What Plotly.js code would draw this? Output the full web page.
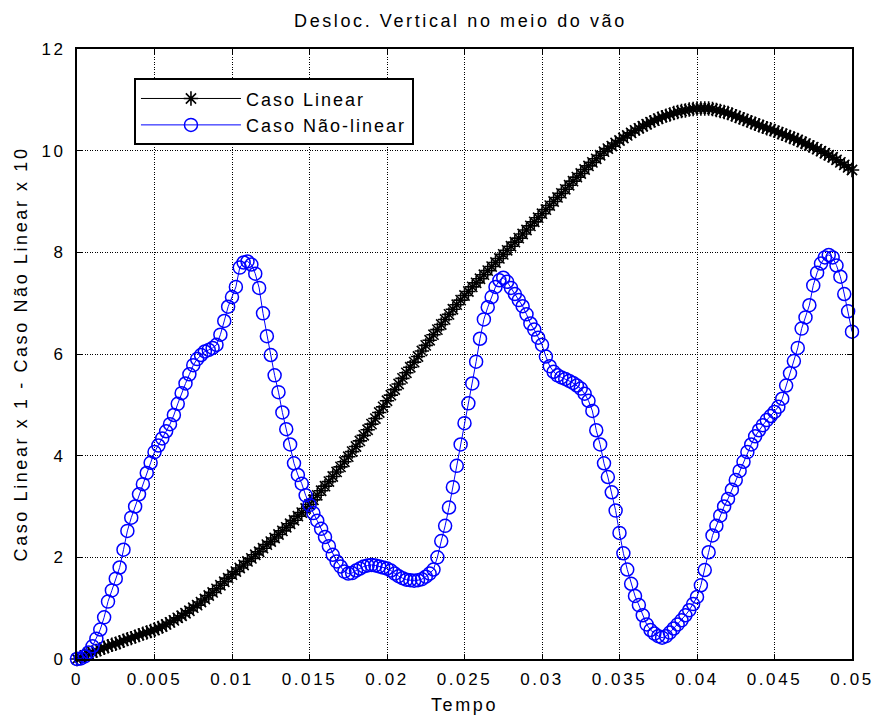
<!DOCTYPE html>
<html>
<head>
<meta charset="utf-8">
<script src="https://cdn.plot.ly/plotly-3.0.1.min.js"></script>
<style>
  html, body { margin: 0; padding: 0; background: #fff; }
  #chart { width: 877px; height: 722px; }
  .gtitle { letter-spacing: 2.6px; }
  .xtitle, .ytitle { letter-spacing: 2.6px; }
  .xtick text, .ytick text { letter-spacing: 2.6px; }
  .legendtext { letter-spacing: 2px; }
</style>
</head>
<body>
<div id="chart"></div>
<script>
// Time grid: first sample and step (s)
const tStart = 0;
const tStep = 0.00025;

// Caso Linear (x 1), one value per time step
const casoLinear = [
  0.00, 0.03, 0.07, 0.10, 0.13, 0.16, 0.19, 0.22, 0.25, 0.28,
  0.30, 0.33, 0.36, 0.39, 0.41, 0.44, 0.47, 0.50, 0.52, 0.55,
  0.57, 0.61, 0.64, 0.68, 0.72, 0.76, 0.81, 0.85, 0.90, 0.95,
  1.01, 1.06, 1.12, 1.18, 1.25, 1.31, 1.38, 1.45, 1.52, 1.59,
  1.66, 1.72, 1.79, 1.85, 1.92, 1.98, 2.05, 2.11, 2.18, 2.25,
  2.31, 2.38, 2.45, 2.52, 2.59, 2.66, 2.73, 2.81, 2.88, 2.96,
  3.04, 3.13, 3.22, 3.31, 3.40, 3.49, 3.59, 3.68, 3.78, 3.88,
  3.98, 4.08, 4.18, 4.29, 4.40, 4.51, 4.62, 4.73, 4.85, 4.96,
  5.08, 5.19, 5.30, 5.41, 5.52, 5.63, 5.74, 5.84, 5.95, 6.06,
  6.17, 6.27, 6.38, 6.48, 6.58, 6.68, 6.78, 6.88, 6.97, 7.06,
  7.15, 7.23, 7.32, 7.40, 7.48, 7.56, 7.64, 7.72, 7.80, 7.88,
  7.96, 8.04, 8.12, 8.20, 8.28, 8.36, 8.44, 8.52, 8.60, 8.68,
  8.76, 8.84, 8.92, 9.00, 9.08, 9.16, 9.24, 9.32, 9.40, 9.48,
  9.55, 9.63, 9.70, 9.77, 9.84, 9.91, 9.98, 10.04, 10.09, 10.15,
  10.20, 10.25, 10.30, 10.35, 10.40, 10.44, 10.48, 10.52, 10.56, 10.59,
  10.63, 10.66, 10.69, 10.71, 10.74, 10.76, 10.78, 10.79, 10.81, 10.82,
  10.83, 10.83, 10.83, 10.83, 10.82, 10.80, 10.78, 10.76, 10.74, 10.71,
  10.68, 10.65, 10.62, 10.59, 10.56, 10.53, 10.50, 10.47, 10.44, 10.42,
  10.39, 10.36, 10.33, 10.30, 10.27, 10.24, 10.21, 10.17, 10.14, 10.10,
  10.07, 10.03, 9.99, 9.95, 9.91, 9.87, 9.82, 9.77, 9.72, 9.67,
  9.62
];

// Caso Nao-linear (x 10), one value per time step
const casoNaoLinear = [
  0.00, 0.01, 0.05, 0.13, 0.25, 0.40, 0.58, 0.82, 1.13, 1.35,
  1.58, 1.80, 2.15, 2.52, 2.78, 3.00, 3.24, 3.44, 3.66, 3.86,
  4.07, 4.20, 4.34, 4.48, 4.62, 4.80, 5.02, 5.23, 5.42, 5.60,
  5.78, 5.90, 5.98, 6.05, 6.08, 6.12, 6.18, 6.38, 6.65, 6.93,
  7.12, 7.32, 7.70, 7.80, 7.82, 7.76, 7.58, 7.30, 6.80, 6.35,
  5.98, 5.58, 5.25, 4.85, 4.52, 4.22, 3.85, 3.62, 3.45, 3.22,
  3.03, 2.87, 2.72, 2.56, 2.40, 2.22, 2.05, 1.92, 1.82, 1.72,
  1.68, 1.69, 1.74, 1.78, 1.82, 1.84, 1.85, 1.84, 1.82, 1.80,
  1.78, 1.74, 1.68, 1.63, 1.59, 1.56, 1.55, 1.54, 1.55, 1.57,
  1.62, 1.68, 1.76, 2.00, 2.32, 2.62, 2.98, 3.38, 3.80, 4.22,
  4.64, 5.03, 5.42, 5.85, 6.30, 6.68, 6.92, 7.12, 7.32, 7.45,
  7.50, 7.42, 7.30, 7.18, 7.06, 6.94, 6.78, 6.60, 6.48, 6.32,
  6.18, 5.95, 5.76, 5.65, 5.58, 5.54, 5.51, 5.47, 5.43, 5.38,
  5.32, 5.22, 5.08, 4.88, 4.50, 4.22, 3.85, 3.58, 3.28, 2.92,
  2.48, 2.08, 1.76, 1.48, 1.24, 1.06, 0.86, 0.68, 0.57, 0.50,
  0.45, 0.42, 0.45, 0.52, 0.60, 0.68, 0.76, 0.86, 0.96, 1.08,
  1.22, 1.45, 1.75, 2.10, 2.43, 2.62, 2.82, 3.00, 3.15, 3.33,
  3.52, 3.70, 3.88, 4.07, 4.22, 4.38, 4.50, 4.60, 4.70, 4.78,
  4.86, 4.96, 5.12, 5.38, 5.62, 5.86, 6.12, 6.50, 6.72, 6.96,
  7.35, 7.60, 7.78, 7.90, 7.95, 7.90, 7.74, 7.52, 7.18, 6.84,
  6.44
];

// Tick labels
const xTickVals = [0, 0.005, 0.01, 0.015, 0.02, 0.025, 0.03, 0.035, 0.04, 0.045, 0.05];
const xTickText = ["0", "0.005", "0.01", "0.015", "0.02", "0.025", "0.03", "0.035", "0.04", "0.045", "0.05"];
const yTickVals = [0, 2, 4, 6, 8, 10, 12];
const yTickText = ["0", "2", "4", "6", "8", "10", "12"];

const seriesNames = ["Caso Linear", "Caso Não-linear"];
const titleText = "Desloc. Vertical no meio do vão";
const xTitle = "Tempo";
const yTitle = "Caso Linear x 1 - Caso Não Linear x 10";

const FONT = "Liberation Sans, Arial, Helvetica, sans-serif";

const traces = [
  {
    type: "scatter",
    mode: "lines+markers",
    name: seriesNames[0],
    x0: tStart, dx: tStep,
    y: casoLinear,
    line: { color: "#000000", width: 1 },
    marker: { symbol: "asterisk-open", size: 12, color: "#000000", line: { color: "#000000", width: 1.6 } },
    cliponaxis: false
  },
  {
    type: "scatter",
    mode: "lines+markers",
    name: seriesNames[1],
    x0: tStart, dx: tStep,
    y: casoNaoLinear,
    line: { color: "#0000FF", width: 1 },
    marker: { symbol: "circle-open", size: 13, color: "#0000FF", line: { color: "#0000FF", width: 1.5 } },
    cliponaxis: false
  }
];

const axisCommon = {
  showline: true, linecolor: "#000000", linewidth: 2, mirror: "ticks",
  ticks: "inside", ticklen: 5, tickwidth: 1, tickcolor: "#000000",
  showgrid: true, gridcolor: "#000000", gridwidth: 1, griddash: "1px,1.5px",
  zeroline: false,
  tickfont: { family: FONT, size: 17, color: "#000000" }
};

const layout = {
  width: 877, height: 722,
  paper_bgcolor: "#ffffff", plot_bgcolor: "#ffffff",
  margin: { l: 77, r: 25, t: 49, b: 63, pad: 0 },
  font: { family: FONT, size: 17, color: "#000000" },
  title: { text: titleText, x: 0.525, xanchor: "center", y: 0.971, yanchor: "middle",
           font: { family: FONT, size: 18, color: "#000000" } },
  xaxis: Object.assign({}, axisCommon, {
    range: [0, 0.05], tickvals: xTickVals, ticktext: xTickText,
    ticklabelstandoff: 4,
    title: { text: xTitle, standoff: 10, font: { family: FONT, size: 18, color: "#000000" } }
  }),
  yaxis: Object.assign({}, axisCommon, {
    range: [0, 12], tickvals: yTickVals, ticktext: yTickText,
    ticklabelstandoff: 6,
    title: { text: yTitle, standoff: 9, font: { family: FONT, size: 18, color: "#000000" } }
  }),
  showlegend: true,
  legend: {
    x: 0.0735, y: 0.952, xanchor: "left", yanchor: "top",
    bgcolor: "#ffffff", bordercolor: "#000000", borderwidth: 2,
    font: { family: FONT, size: 18, color: "#000000" },
    itemwidth: 100
  }
};

Plotly.newPlot("chart", traces, layout, { displayModeBar: false, staticPlot: true });
</script>
</body>
</html>
